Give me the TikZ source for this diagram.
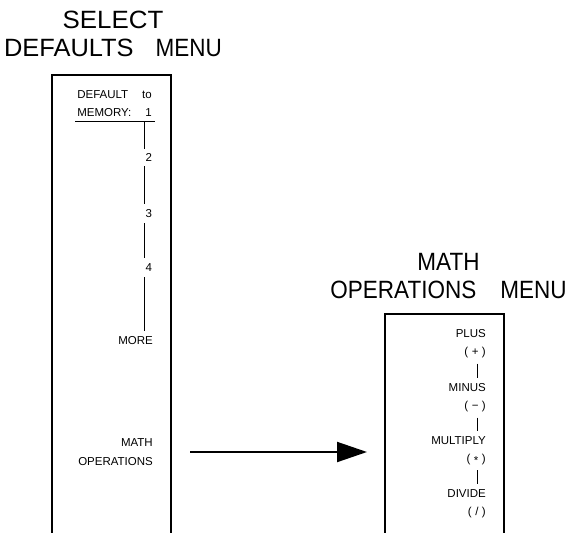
\documentclass[tikz,border=0pt]{standalone}
\usepackage{fontspec}
\usepackage{graphicx}
\setmainfont{Liberation Sans}
\newfontfamily\labfont{Liberation Sans}
\newfontfamily\titlefont[FakeStretch=0.9]{Liberation Sans}
\usetikzlibrary{arrows.meta,calc}
\newcommand{\pgap}{\hspace{3.5pt}}
\begin{document}
\begin{tikzpicture}[x=1pt,y=-1pt,
  lab/.style={font=\labfont\fontsize{11.5}{18.7}\selectfont, inner sep=0pt, align=right},
  ttl/.style={font=\titlefont\fontsize{25}{28}\selectfont, inner sep=0pt, align=center},
  menubox/.style={line width=1.3pt},
  conn/.style={line width=1pt},
  arr/.style={line width=2pt, -{Triangle[length=30pt,width=20pt]}}]
\fill[white] (0,0) rectangle (571,533);
\useasboundingbox (0,0) rectangle (571,533);

% titles
\node[ttl] (t1) at (113,34) {\scalebox{1.15}[1]{SELECT}\\\scalebox{1.13}[1]{DEFAULTS}\hspace{22pt}MENU};
\node[ttl] (t2) at (448.5,276) {MATH\\OPERATIONS\hspace{24pt}MENU};

% menu boxes (open at the bottom)
\node[minimum width=119pt, minimum height=458pt, anchor=north west, inner sep=0pt, outer sep=0pt] (lbox) at (52,75) {};
\node[minimum width=119pt, minimum height=219pt, anchor=north west, inner sep=0pt, outer sep=0pt] (rbox) at (385,314) {};
\draw[menubox] (lbox.south west) -- (lbox.north west) -- (lbox.north east) -- (lbox.south east);
\draw[menubox] (rbox.south west) -- (rbox.north west) -- (rbox.north east) -- (rbox.south east);

% left menu labels
\node[lab, anchor=north east] (n1) at (152,90) {DEFAULT\hspace{14pt}to\\MEMORY:\hspace{14pt}1};
\coordinate (ulL) at ($(n1.south west)+(-2,4)$);
\coordinate (ulR) at ($(n1.south east)+(3,4)$);
\draw[conn] (ulL) -- (ulR);
\coordinate (vx) at (144.5,0);
\node[lab, anchor=west] (n2) at (145.5,157) {2};
\node[lab, anchor=west] (n3) at (145.5,214) {3};
\node[lab, anchor=west] (n4) at (145.5,268) {4};
\node[lab, anchor=east] (more) at (153,341) {MORE};
\node[lab, anchor=east] (mathop) at (153,452) {MATH\\OPERATIONS};

\draw[conn, shorten >=3.5pt] (ulL -| vx) -- (n2.north -| vx);
\draw[conn, shorten <=5pt, shorten >=6pt] (n2.south -| vx) -- (n3.north -| vx);
\draw[conn, shorten <=5pt, shorten >=6pt] (n3.south -| vx) -- (n4.north -| vx);
\draw[conn, shorten <=5pt, shorten >=6pt] (n4.south -| vx) -- (more.north -| vx);

% right menu labels
\coordinate (rvx) at (477,0);
\node[lab, anchor=north east] (plus) at (486,329) {PLUS\\(\pgap+\pgap)};
\node[lab, anchor=north east] (minus) at (486,383) {MINUS\\(\pgap−\pgap)};
\node[lab, anchor=north east] (mult) at (486,436) {MULTIPLY\\(\pgap\raisebox{-2pt}{*}\pgap)};
\node[lab, anchor=north east] (div) at (486,489) {DIVIDE\\(\pgap/\pgap)};
\draw[conn, shorten <=5pt, shorten >=5pt] (plus.south -| rvx) -- (minus.north -| rvx);
\draw[conn, shorten <=5pt, shorten >=5pt] (minus.south -| rvx) -- (mult.north -| rvx);
\draw[conn, shorten <=5pt, shorten >=5pt] (mult.south -| rvx) -- (div.north -| rvx);

% arrow between menus
\draw[arr] ($(lbox.east |- mathop)+(19,0)$) -- ($(rbox.west |- mathop)+(-18,0)$);
\end{tikzpicture}
\end{document}
